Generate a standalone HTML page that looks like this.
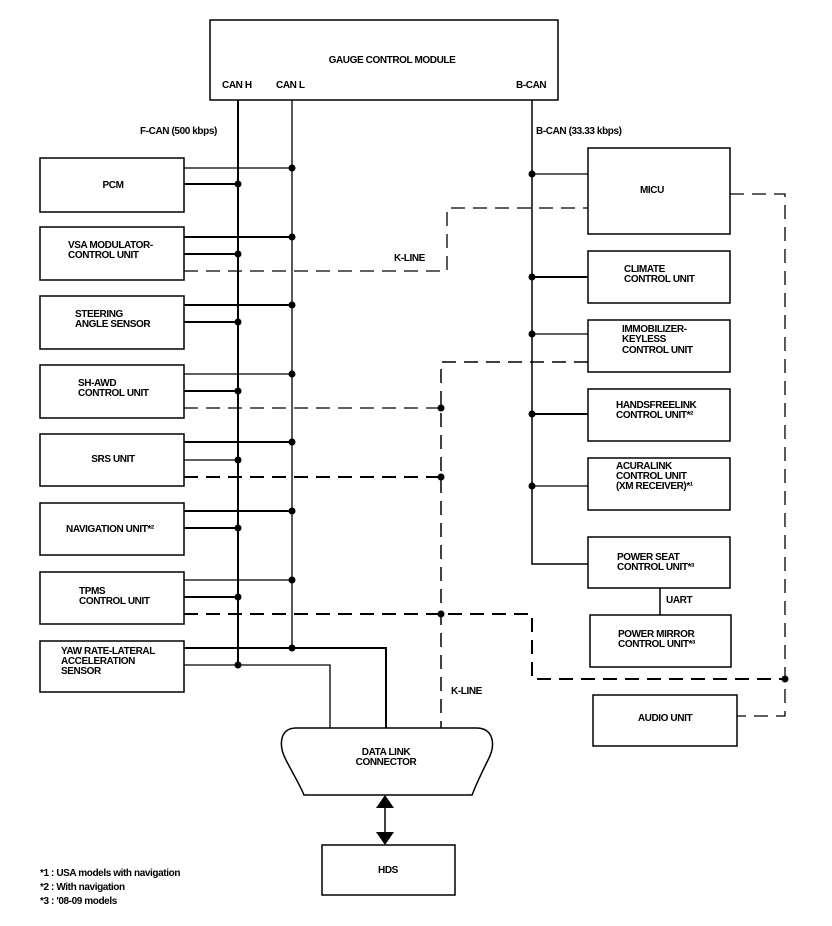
<!DOCTYPE html>
<html><head><meta charset="utf-8"><style>
html,body{margin:0;padding:0;background:#fff;}
svg{display:block;}
text{font-family:"Liberation Sans Narrow","Liberation Sans",sans-serif;font-weight:bold;font-size:10px;fill:#000;letter-spacing:-0.4px;}
</style></head><body>
<svg width="832" height="926" viewBox="0 0 832 926" xmlns="http://www.w3.org/2000/svg">
<g fill="none" stroke="#000">
<rect x="210" y="20" width="348" height="80" stroke-width="1.5"/>
<line x1="238" y1="100" x2="238" y2="666" stroke-width="2"/>
<line x1="292" y1="100" x2="292" y2="649" stroke-width="1.3"/>
<polyline points="532,100 532,564 588,564" stroke-width="1.5"/>
<g stroke-width="1.5">
<rect x="40" y="158" width="144" height="54"/>
<rect x="40" y="227" width="144" height="53"/>
<rect x="40" y="296" width="144" height="53"/>
<rect x="40" y="365" width="144" height="53"/>
<rect x="40" y="434" width="144" height="52"/>
<rect x="40" y="503" width="144" height="52"/>
<rect x="40" y="572" width="144" height="52"/>
<rect x="40" y="641" width="144" height="51"/>
</g>
<g stroke-width="1.5">
<rect x="588" y="148" width="142" height="86"/>
<rect x="588" y="251" width="142" height="52"/>
<rect x="588" y="320" width="142" height="52"/>
<rect x="588" y="389" width="142" height="52"/>
<rect x="588" y="458" width="142" height="52"/>
<rect x="588" y="537" width="142" height="51"/>
<rect x="590" y="615" width="141" height="52"/>
<rect x="593" y="695" width="144" height="51"/>
</g>
<g stroke-width="1.3">
<line x1="184" y1="168" x2="292" y2="168"/>
<line x1="184" y1="184" x2="238" y2="184" stroke-width="2"/>
<line x1="184" y1="237" x2="292" y2="237" stroke-width="2"/>
<line x1="184" y1="254" x2="238" y2="254" stroke-width="2"/>
<line x1="184" y1="305" x2="292" y2="305" stroke-width="2"/>
<line x1="184" y1="322" x2="238" y2="322" stroke-width="2"/>
<line x1="184" y1="374" x2="292" y2="374"/>
<line x1="184" y1="391" x2="238" y2="391" stroke-width="2"/>
<line x1="184" y1="442" x2="292" y2="442" stroke-width="2"/>
<line x1="184" y1="460" x2="238" y2="460"/>
<line x1="184" y1="511" x2="292" y2="511" stroke-width="2"/>
<line x1="184" y1="528" x2="238" y2="528" stroke-width="2"/>
<line x1="184" y1="580" x2="292" y2="580"/>
<line x1="184" y1="597" x2="238" y2="597" stroke-width="2"/>
<polyline points="184,648 386,648 386,728" stroke-width="2"/>
<polyline points="184,665 330,665 330,728"/>
</g>
<g stroke-width="1.3">
<line x1="532" y1="174" x2="588" y2="174"/>
<line x1="532" y1="277" x2="588" y2="277" stroke-width="2"/>
<line x1="532" y1="334" x2="588" y2="334"/>
<line x1="532" y1="414" x2="588" y2="414" stroke-width="2"/>
<line x1="532" y1="486" x2="588" y2="486"/>
<line x1="660" y1="588" x2="660" y2="615" stroke-width="1.5"/>
</g>
<g stroke-dasharray="14,8" stroke-width="1.5">
<polyline points="184,271 447,271 447,208 588,208" stroke-width="1.3"/>
<polyline points="588,362 441,362 441,728" />
<line x1="184" y1="408" x2="441" y2="408" stroke-width="1.3"/>
<line x1="184" y1="477" x2="441" y2="477" stroke-width="2"/>
<polyline points="184,614 532,614 532,679 785,679" stroke-width="2"/>
<polyline points="730,194 785,194 785,716 737,716" stroke-width="1.3"/>
</g>
<path d="M296,728 L476,728 C494,728 496,745 488,760 C482,772 476,785 472,795 L304,795 C300,785 292,772 286,760 C278,745 280,728 296,728 Z" stroke-width="1.5"/>
<rect x="322" y="845" width="133" height="50" stroke-width="1.5"/>
<line x1="385" y1="805" x2="385" y2="835" stroke-width="1.5"/>
</g>
<polygon points="385,795 376,808 394,808" fill="#000"/>
<polygon points="385,845 376,832 394,832" fill="#000"/>
<g fill="#000">
<circle cx="292" cy="168" r="3.5"/><circle cx="238" cy="184" r="3.5"/>
<circle cx="292" cy="237" r="3.5"/><circle cx="238" cy="254" r="3.5"/>
<circle cx="292" cy="305" r="3.5"/><circle cx="238" cy="322" r="3.5"/>
<circle cx="292" cy="374" r="3.5"/><circle cx="238" cy="391" r="3.5"/>
<circle cx="292" cy="442" r="3.5"/><circle cx="238" cy="460" r="3.5"/>
<circle cx="292" cy="511" r="3.5"/><circle cx="238" cy="528" r="3.5"/>
<circle cx="292" cy="580" r="3.5"/><circle cx="238" cy="597" r="3.5"/>
<circle cx="292" cy="648" r="3.5"/><circle cx="238" cy="665" r="3.5"/>
<circle cx="441" cy="408" r="3.5"/><circle cx="441" cy="477" r="3.5"/><circle cx="441" cy="614" r="3.5"/>
<circle cx="532" cy="174" r="3.5"/><circle cx="532" cy="277" r="3.5"/><circle cx="532" cy="334" r="3.5"/>
<circle cx="532" cy="414" r="3.5"/><circle cx="532" cy="486" r="3.5"/>
<circle cx="785" cy="679" r="3.5"/>
</g>
<text x="392" y="63" text-anchor="middle">GAUGE CONTROL MODULE</text>
<text x="222" y="88">CAN H</text>
<text x="276" y="88">CAN L</text>
<text x="516" y="88">B-CAN</text>
<text x="140" y="134">F-CAN (500 kbps)</text>
<text x="536" y="134">B-CAN (33.33 kbps)</text>
<text x="113" y="188" text-anchor="middle">PCM</text>
<text x="68" y="248">VSA MODULATOR-</text><text x="68" y="258">CONTROL UNIT</text>
<text x="75" y="317">STEERING</text><text x="75" y="327">ANGLE SENSOR</text>
<text x="78" y="386">SH-AWD</text><text x="78" y="396">CONTROL UNIT</text>
<text x="113" y="462" text-anchor="middle">SRS UNIT</text>
<text x="66" y="532">NAVIGATION UNIT*²</text>
<text x="79" y="594">TPMS</text><text x="79" y="604">CONTROL UNIT</text>
<text x="61" y="654">YAW RATE-LATERAL</text><text x="61" y="664">ACCELERATION</text><text x="61" y="674">SENSOR</text>
<text x="394" y="261">K-LINE</text>
<text x="451" y="694">K-LINE</text>
<text x="640" y="193">MICU</text>
<text x="624" y="272">CLIMATE</text><text x="624" y="282">CONTROL UNIT</text>
<text x="622" y="332">IMMOBILIZER-</text><text x="622" y="342">KEYLESS</text><text x="622" y="353">CONTROL UNIT</text>
<text x="616" y="408">HANDSFREELINK</text><text x="616" y="418">CONTROL UNIT*²</text>
<text x="616" y="469">ACURALINK</text><text x="616" y="479">CONTROL UNIT</text><text x="616" y="489">(XM RECEIVER)*¹</text>
<text x="617" y="560">POWER SEAT</text><text x="617" y="570">CONTROL UNIT*³</text>
<text x="666" y="603">UART</text>
<text x="618" y="637">POWER MIRROR</text><text x="618" y="647">CONTROL UNIT*³</text>
<text x="665" y="721" text-anchor="middle">AUDIO UNIT</text>
<text x="386" y="755" text-anchor="middle">DATA LINK</text><text x="386" y="765" text-anchor="middle">CONNECTOR</text>
<text x="388" y="873" text-anchor="middle">HDS</text>
<text x="40" y="876">*1 : USA models with navigation</text>
<text x="40" y="890">*2 : With navigation</text>
<text x="40" y="904">*3 : '08-09 models</text>
</svg>
</body></html>
